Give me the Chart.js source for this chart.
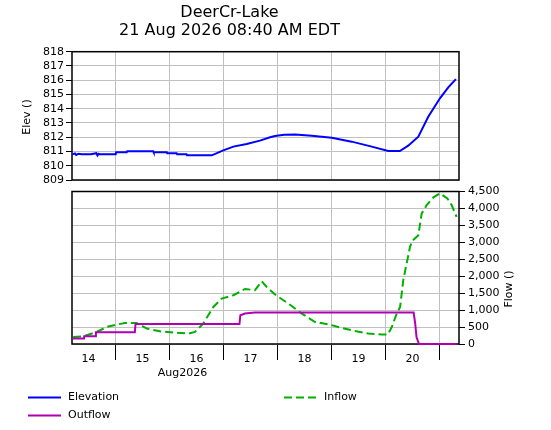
<!DOCTYPE html>
<html><head><meta charset="utf-8">
<script src="https://cdn.jsdelivr.net/npm/chart.js@4.4.1/dist/chart.umd.min.js"></script>
<style>
html,body{margin:0;padding:0;background:#fff}
#wrap{position:relative;width:551px;height:430px}
canvas{position:absolute;left:0;top:0}
</style>
</head><body>
<div id="wrap"><canvas id="cTop" width="551" height="430"></canvas><canvas id="cBot" width="551" height="430"></canvas></div>
<script>
// ---- data (x = hours since Aug 14 00:00) ----
const titleLines = ['DeerCr-Lake', '21 Aug 2026 08:40 AM EDT'];
const dayLabels = ['14','15','16','17','18','19','20'];
const dayNoonHours = [12,36,60,84,108,132,156];
const dayStartHours = [24,48,72,96,120,144,168];
const elevTicks = [809,810,811,812,813,814,815,816,817,818];

const elevHours  = [4.8,6.0,6.5,7.5,9,13,15.5,16,16.5,17,24.1,24.3,29.0,29.2,40.8,41.0,46.8,47.0,51.2,51.4,55.6,55.8,66.8,71.9,76.4,82.3,88.2,92.7,94.9,99,103.8,111.2,120.1,129.0,137.9,145.2,150.4,154.1,158.6,163.0,168.2,171.9,175.3];
const elevValues = [810.80,810.87,810.76,810.84,810.80,810.80,810.88,810.72,810.84,810.80,810.80,810.94,810.94,811.01,811.01,810.94,810.94,810.87,810.87,810.80,810.80,810.73,810.73,811.08,811.34,811.52,811.76,812.00,812.09,812.17,812.20,812.10,811.97,811.69,811.34,811.03,811.03,811.41,812.04,813.44,814.73,815.50,816.08];

const inflowHours  = [5.2,9.7,15.6,20.1,24.5,28.2,33.4,37.9,43.8,49.7,56.4,59.3,63.0,67.5,71.2,76.4,81.6,86.0,89.0,91.2,94.9,100.8,106.8,112.7,118.6,124.5,130.5,136.4,142.3,145.0,146.8,149.0,150.5,151.9,153.4,154.9,155.9,158.6,160.1,162.3,165.3,168.2,171.5,173.4,175.6];
const inflowValues = [207,228,355,502,573,621,621,455,375,337,307,355,603,1093,1342,1439,1625,1587,1853,1684,1460,1194,898,650,582,473,384,307,278,278,502,898,1093,1882,2376,2866,3044,3212,3853,4099,4326,4444,4297,4099,3753];

const outflowHours  = [5.0,10.0,10.1,15.1,15.3,32.6,32.9,79.1,79.5,81.5,86.0,156.5,157.2,157.8,158.9,175.6];
const outflowValues = [160,160,230,230,345,345,590,590,850,900,930,930,610,200,0,0];

const xMin = 4.67, xMax = 176.67;
const flowTicks = [0,500,1000,1500,2000,2500,3000,3500,4000,4500];

// ---- styles ----
const BLUE = '#0000ff', GREEN = '#00b000', MAGENTA = '#b000b0', GRID = '#c0c0c0';
const FONT = "'DejaVu Sans', Verdana, sans-serif";
Chart.defaults.font.family = FONT;
Chart.defaults.font.size = 11;
Chart.defaults.color = '#000';

function pts(xs, ys){ return xs.map((x,i)=>({x:x, y:ys[i]})); }

const framePlugin = {
  id:'frame',
  beforeDatasetsDraw(chart){
    const a = chart.chartArea, ctx = chart.ctx;
    ctx.save(); ctx.strokeStyle='#000'; ctx.lineWidth=1.5;
    ctx.strokeRect(a.left, a.top, a.right-a.left, a.bottom-a.top);
    ctx.restore();
  }
};

function vText(ctx, text, x, y){
  ctx.save(); ctx.translate(x,y); ctx.rotate(-Math.PI/2);
  ctx.textAlign='center'; ctx.textBaseline='middle'; ctx.fillText(text,0,0); ctx.restore();
}

const topTitles = {
  id:'topTitles',
  afterDraw(chart){
    const ctx=chart.ctx; ctx.save(); ctx.fillStyle='#000'; ctx.font='11px '+FONT;
    vText(ctx,'Elev ()',27,117); ctx.restore();
  }
};

const botExtras = {
  id:'botExtras',
  afterDraw(chart){
    const ctx=chart.ctx; ctx.save(); ctx.fillStyle='#000'; ctx.font='11px '+FONT;
    vText(ctx,'Flow ()',509,289);
    ctx.textAlign='center'; ctx.textBaseline='middle';
    ctx.fillText('Aug2026',182.5,373.5);
    const items=[
      {label:'Elevation', color:BLUE, dash:[], x:28, y:397.5},
      {label:'Inflow', color:GREEN, dash:[8,4], x:284, y:397.5},
      {label:'Outflow', color:MAGENTA, dash:[], x:28, y:415.5}
    ];
    items.forEach(it=>{
      ctx.save(); ctx.strokeStyle=it.color; ctx.lineWidth=2; ctx.setLineDash(it.dash);
      ctx.beginPath(); ctx.moveTo(it.x,it.y); ctx.lineTo(it.x+33,it.y); ctx.stroke(); ctx.restore();
      ctx.textAlign='left'; ctx.textBaseline='middle'; ctx.fillStyle='#000';
      ctx.fillText(it.label,it.x+40,it.y);
    });
    ctx.restore();
  }
};

new Chart(document.getElementById('cTop'), {
  type:'line',
  data:{ datasets:[{ label:'Elevation', data:pts(elevHours,elevValues), borderColor:BLUE, borderWidth:2, pointRadius:0, tension:0, fill:false }]},
  options:{
    responsive:false, animation:false, devicePixelRatio:1,
    layout:{ padding:{ top:0, left:0, right:92, bottom:250 } },
    plugins:{
      legend:{display:false}, tooltip:{enabled:false},
      title:{ display:true, text:titleLines, color:'#000', font:{ size:16, weight:'normal', family:FONT, lineHeight:1.1 }, padding:{ top:4, bottom:12.5 } }
    },
    scales:{
      x:{ type:'linear', min:xMin, max:xMax,
          afterBuildTicks(s){ s.ticks = dayStartHours.map(v=>({value:v})); },
          afterFit(s){ s.height = 0; },
          ticks:{ display:false, autoSkip:false }, grid:{ color:GRID, drawTicks:false }, border:{ display:false } },
      y:{ type:'linear', min:809, max:818,
          afterBuildTicks(s){ s.ticks = elevTicks.map(v=>({value:v})); },
          afterFit(s){ s.width = 72; },
          ticks:{ padding:2, autoSkip:false, font:{size:11} }, grid:{ color:GRID, tickColor:'#000', tickLength:6 }, border:{ display:false } }
    }
  },
  plugins:[framePlugin, topTitles]
});

new Chart(document.getElementById('cBot'), {
  type:'line',
  data:{ datasets:[
    { label:'Outflow', data:pts(outflowHours,outflowValues), borderColor:MAGENTA, borderWidth:2, pointRadius:0, tension:0, fill:false, clip:4 },
    { label:'Inflow', data:pts(inflowHours,inflowValues), borderColor:GREEN, borderWidth:2, borderDash:[8,4], pointRadius:0, tension:0, fill:false }
  ]},
  options:{
    responsive:false, animation:false, devicePixelRatio:1,
    layout:{ padding:{ top:191.5, left:72, right:0, bottom:0 } },
    plugins:{ legend:{display:false}, tooltip:{enabled:false}, title:{display:false} },
    scales:{
      x:{ type:'linear', position:'bottom', min:xMin, max:xMax,
          afterBuildTicks(s){ s.ticks = dayNoonHours.map(v=>({value:v})); },
          afterFit(s){ s.height = 86; },
          ticks:{ padding:-7, maxRotation:0, autoSkip:false, font:{size:11},
                  callback(v){ const i = dayNoonHours.indexOf(v); return i>=0 ? dayLabels[i] : ''; } },
          grid:{ color:GRID, tickColor:'#000', tickLength:16, offset:true }, border:{ display:false } },
      y:{ type:'linear', position:'right', min:0, max:4500,
          afterBuildTicks(s){ s.ticks = flowTicks.map(v=>({value:v})); },
          afterFit(s){ s.width = 92; },
          ticks:{ padding:3, autoSkip:false, font:{size:11}, callback(v){ return v.toLocaleString('en-US'); } },
          grid:{ color:GRID, tickColor:'#000', tickLength:6 }, border:{ display:false } }
    }
  },
  plugins:[framePlugin, botExtras]
});
</script>
</body></html>
